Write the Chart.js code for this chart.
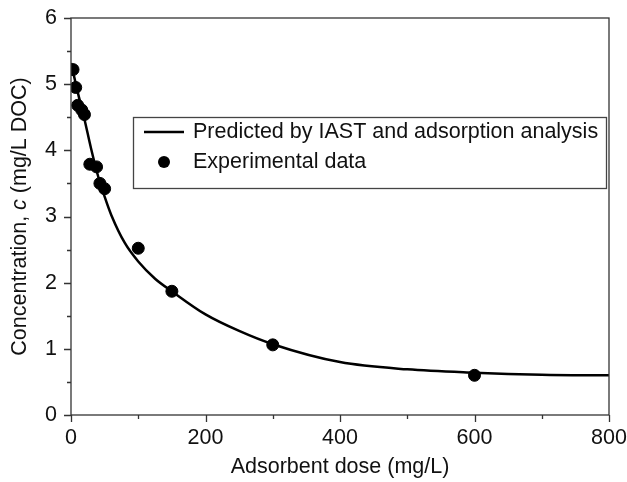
<!DOCTYPE html>
<html>
<head>
<meta charset="utf-8">
<script src="https://cdn.jsdelivr.net/npm/chart.js@4"></script>
<style>
  html, body { margin: 0; padding: 0; background: #fff; }
  #wrap { width: 627px; height: 482px; position: relative; }
</style>
</head>
<body>
<div id="wrap"><canvas id="chart"></canvas></div>
<script>
const expDose = [3, 7, 10, 16, 20, 28, 38, 43, 50, 100, 150, 300, 600];
const expConc = [5.22, 4.95, 4.68, 4.61, 4.54, 3.79, 3.75, 3.50, 3.42, 2.52, 1.87, 1.06, 0.60];

// Predicted curve (IAST + adsorption analysis), sampled from the figure
const fitDose = [0, 10, 20, 30, 40, 50, 60, 80, 100, 125, 150, 200, 250, 300, 400, 500, 600, 700, 800];
const fitConc = [5.32, 4.88, 4.47, 4.02, 3.62, 3.30, 3.02, 2.60, 2.32, 2.06, 1.87, 1.52, 1.27, 1.07, 0.80, 0.69, 0.64, 0.61, 0.60];

const xTicks = [0, 200, 400, 600, 800];
const yTicks = [0, 1, 2, 3, 4, 5, 6];

const fontFamily = "'Liberation Sans', Arial, sans-serif";
const fontSize = 21.5;
const axisColor = "#333";

const pts = (xs, ys) => xs.map((x, i) => ({ x: x, y: ys[i] }));

// frame, outside ticks (major + minor), y title with italic c, inset legend
const decor = {
  id: "decor",
  afterDraw(chart) {
    const { ctx, chartArea: a, scales } = chart;
    const sx = scales.x, sy = scales.y;
    ctx.save();
    ctx.strokeStyle = axisColor;
    ctx.lineWidth = 1.3;
    ctx.strokeRect(a.left, a.top, a.right - a.left, a.bottom - a.top);

    ctx.beginPath();
    for (let v = 0; v <= 800; v += 100) {
      const px = Math.round(sx.getPixelForValue(v)) + 0.5;
      ctx.moveTo(px, a.bottom);
      ctx.lineTo(px, a.bottom + (v % 200 === 0 ? 7 : 4));
    }
    for (let v = 0; v <= 6; v += 0.5) {
      const py = Math.round(sy.getPixelForValue(v)) + 0.5;
      ctx.moveTo(a.left, py);
      ctx.lineTo(a.left - (v % 1 === 0 ? 7 : 4), py);
    }
    ctx.stroke();

    // y axis title
    const parts = [
      { t: "Concentration, ", f: fontSize + "px " + fontFamily },
      { t: "c", f: "italic " + fontSize + "px " + fontFamily },
      { t: " (mg/L DOC)", f: fontSize + "px " + fontFamily },
    ];
    let total = 0;
    parts.forEach((p) => { ctx.font = p.f; p.w = ctx.measureText(p.t).width; total += p.w; });
    ctx.translate(20, (a.top + a.bottom) / 2);
    ctx.rotate(-Math.PI / 2);
    ctx.fillStyle = "#111";
    ctx.textBaseline = "middle";
    ctx.textAlign = "left";
    let cx = -total / 2;
    parts.forEach((p) => { ctx.font = p.f; ctx.fillText(p.t, cx, 0); cx += p.w; });
    ctx.setTransform(1, 0, 0, 1, 0, 0);

    // legend box
    const lx = 133, ly = 117, lw = 473, lh = 71;
    ctx.fillStyle = "#fff";
    ctx.fillRect(lx, ly, lw, lh);
    ctx.strokeStyle = "#444";
    ctx.lineWidth = 1.3;
    ctx.strokeRect(lx + 0.5, ly + 0.5, lw, lh);
    ctx.strokeStyle = "#000";
    ctx.lineWidth = 2.5;
    ctx.beginPath();
    ctx.moveTo(lx + 11, ly + 15);
    ctx.lineTo(lx + 51, ly + 15);
    ctx.stroke();
    ctx.fillStyle = "#000";
    ctx.beginPath();
    ctx.arc(lx + 31, ly + 45, 6, 0, Math.PI * 2);
    ctx.fill();
    ctx.fillStyle = "#111";
    ctx.font = fontSize + "px " + fontFamily;
    ctx.textBaseline = "middle";
    ctx.fillText("Predicted by IAST and adsorption analysis", lx + 60, ly + 15);
    ctx.fillText("Experimental data", lx + 60, ly + 45);
    ctx.restore();
  },
};

new Chart(document.getElementById("chart"), {
  type: "scatter",
  data: {
    datasets: [
      {
        label: "Predicted by IAST and adsorption analysis",
        data: pts(fitDose, fitConc),
        showLine: true,
        borderColor: "#000",
        borderWidth: 2.5,
        pointRadius: 0,
        cubicInterpolationMode: "monotone",
        order: 2,
      },
      {
        label: "Experimental data",
        data: pts(expDose, expConc),
        backgroundColor: "#000",
        borderColor: "#000",
        pointRadius: 6,
        pointHoverRadius: 6,
        order: 1,
      },
    ],
  },
  options: {
    responsive: true,
    maintainAspectRatio: false,
    animation: false,
    layout: { padding: { top: 18, right: 18, left: 0, bottom: 0 } },
    plugins: { legend: { display: false }, tooltip: { enabled: false } },
    scales: {
      x: {
        type: "linear",
        min: 0,
        max: 800,
        afterBuildTicks: (s) => { s.ticks = xTicks.map((v) => ({ value: v })); },
        afterFit: (s) => { s.height = 67; s.paddingLeft = 0; s.paddingRight = 0; },
        grid: { display: false, drawTicks: false },
        border: { display: false },
        ticks: { color: "#111", padding: 10, maxRotation: 0, font: { family: fontFamily, size: fontSize } },
        title: {
          display: true,
          text: "Adsorbent dose (mg/L)",
          color: "#111",
          font: { family: fontFamily, size: fontSize },
          padding: { top: 1, bottom: 2 },
        },
      },
      y: {
        type: "linear",
        min: 0,
        max: 6,
        afterBuildTicks: (s) => { s.ticks = yTicks.map((v) => ({ value: v })); },
        afterFit: (s) => { s.width = 71; s.paddingTop = 0; s.paddingBottom = 0; },
        grid: { display: false, drawTicks: false },
        border: { display: false },
        ticks: { color: "#111", padding: 14, font: { family: fontFamily, size: fontSize } },
      },
    },
  },
  plugins: [decor],
});
</script>
</body>
</html>
